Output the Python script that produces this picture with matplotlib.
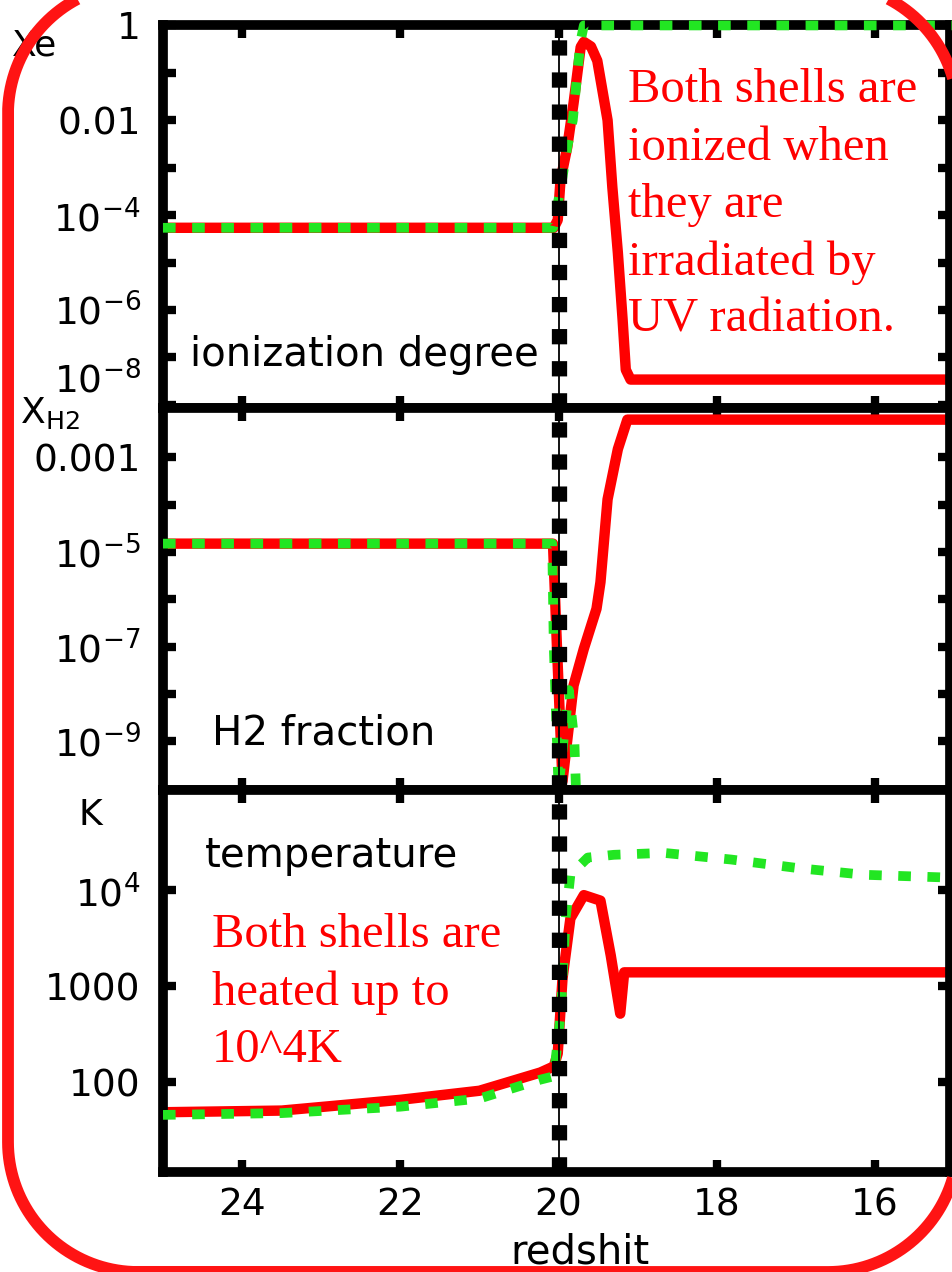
import matplotlib
matplotlib.use("Agg")
import numpy as np
import matplotlib.pyplot as plt
from matplotlib.patches import PathPatch
from matplotlib.path import Path
from matplotlib.ticker import FixedLocator, FixedFormatter

# ---------------- data ----------------
x_ticks = [24, 22, 20, 18, 16]
x_ticklabels = ["24", "22", "20", "18", "16"]
z_uv = 20.0

# ionization degree
xe_red_z = [25.0, 20.06, 20.01, 19.975, 19.89, 19.81, 19.72, 19.68, 19.59, 19.51,
            19.38, 19.32, 19.25, 19.19, 19.15, 19.09, 15.0]
xe_red = [5.4e-5, 5.4e-5, 7.9e-5, 5.5e-4, 2.7e-3, 0.023, 0.35, 0.45, 0.36, 0.18,
          0.01, 3.9e-4, 1.6e-5, 6.2e-7, 5.5e-8, 3.4e-8, 3.4e-8]
xe_green_z = [25.0, 20.07, 20.04, 19.95, 19.89, 19.82, 19.76, 19.72, 19.68, 15.0]
xe_green = [5.4e-5, 5.4e-5, 9e-5, 6.3e-4, 2.7e-3, 0.01, 0.11, 0.48, 1.0, 1.0]
xe_yticks = [1, 1e-1, 1e-2, 1e-3, 1e-4, 1e-5, 1e-6, 1e-7, 1e-8]
xe_yticklabels = ["1", "", "0.01", "", r"$10^{-4}$", "", r"$10^{-6}$", "", ""]

# H2 fraction
h2_red_z = [25.0, 20.07, 20.02, 19.95, 19.81, 19.68, 19.52, 19.47, 19.38, 19.25,
            19.13, 15.0]
h2_red = [1.5e-5, 1.5e-5, 1e-7, 1.4e-10, 1.5e-8, 9e-8, 6.3e-7, 2.3e-6, 1.3e-4,
          1.5e-3, 6.3e-3, 6.3e-3]
h2_green_z = [25.0, 20.08, 20.06, 20.0, 19.87, 19.80, 19.76]
h2_green = [1.5e-5, 1.5e-5, 1e-7, 1e-10, 1.2e-8, 1e-9, 1e-11]
h2_yticks = [1e-3, 1e-4, 1e-5, 1e-6, 1e-7, 1e-8, 1e-9]
h2_yticklabels = ["0.001", "", r"$10^{-5}$", "", r"$10^{-7}$", "", r"$10^{-9}$"]

# temperature
t_red_z = [25.0, 23.5, 22.0, 21.0, 20.23, 20.06, 20.01, 19.95, 19.85, 19.68, 19.47,
           19.34, 19.22, 19.17, 15.0]
t_red = [49, 51, 66, 82, 127, 147, 200, 1200, 5100, 8900, 7800, 2100, 520, 1400, 1400]
t_green_z = [25.0, 23.5, 22.0, 21.0, 20.23, 20.06, 19.97, 19.91, 19.85, 19.63, 19.30,
             18.67, 17.82, 16.97, 16.14, 15.0]
t_green = [46, 48, 56, 68, 107, 116, 540, 5100, 14500, 21900, 23400, 24500, 20900,
           17000, 14500, 13500]
t_yticks = [1e4, 1e3, 1e2]
t_yticklabels = [r"$10^{4}$", "1000", "100"]

# ---------------- style ----------------
RED = "#ff0000"
GREEN = "#22e622"
TICK_FS = 27
LABEL_FS = 29

plt.rcParams["font.family"] = ["DejaVu Sans"]
plt.rcParams["mathtext.fontset"] = "dejavusans"

fig = plt.figure(figsize=(9.53, 12.72), dpi=100)
axes = fig.subplots(3, 1, sharex=True)
fig.subplots_adjust(left=0.171, right=0.997, top=0.980, bottom=0.0786, hspace=0)

ylims = [(8.7e-9, 1.0), (9.3e-11, 1.13e-2), (11.7, 1.11e5)]
yticks = [xe_yticks, h2_yticks, t_yticks]
ylabels = [xe_yticklabels, h2_yticklabels, t_yticklabels]
series = [(xe_red_z, xe_red, xe_green_z, xe_green),
          (h2_red_z, h2_red, h2_green_z, h2_green),
          (t_red_z, t_red, t_green_z, t_green)]

for i, ax in enumerate(axes):
    rz, rv, gz, gv = series[i]
    ax.set_yscale("log")
    ax.plot(rz, rv, color=RED, lw=7.5, zorder=2)
    ax.plot(gz, gv, color=GREEN, lw=7, ls=(0, (1.3, 1.7)), zorder=3,
            clip_on=(i != 0))
    ax.axvline(z_uv, color="k", lw=1.3, zorder=4)
    ax.axvline(z_uv, color="k", lw=11, ls=(0, (1, 1.1)), zorder=4)
    ax.set_xlim(25, 15.05)
    ax.set_ylim(*ylims[i])
    ax.yaxis.set_major_locator(FixedLocator(yticks[i]))
    ax.yaxis.set_major_formatter(FixedFormatter(ylabels[i]))
    ax.yaxis.set_minor_locator(FixedLocator([]))
    ax.xaxis.set_major_locator(FixedLocator(x_ticks))
    ax.xaxis.set_major_formatter(FixedFormatter(x_ticklabels))
    for s in ax.spines.values():
        s.set_linewidth(7)
    ax.tick_params(axis="both", which="major", direction="in", length=9, width=6,
                   top=True, right=True, labelsize=TICK_FS)
    ax.tick_params(axis="y", pad=16)
    ax.tick_params(axis="x", pad=11)

# 10^-8 label of top panel (raised above its tick)
axes[0].annotate(r"$10^{-8}$", xy=(0, 1e-8), xycoords=("axes fraction", "data"),
                 xytext=(-16, 17), textcoords="offset points", ha="right",
                 va="center", fontsize=TICK_FS)

# panel names
axes[0].text(0.034, 0.138, "ionization degree", transform=axes[0].transAxes,
             fontsize=LABEL_FS, ha="left", va="center")
axes[1].text(0.062, 0.148, "H2 fraction", transform=axes[1].transAxes,
             fontsize=LABEL_FS, ha="left", va="center")
axes[2].text(0.053, 0.826, "temperature", transform=axes[2].transAxes,
             fontsize=LABEL_FS, ha="left", va="center")

# annotations
axes[0].text(0.591, 0.888, "Both shells are\nionized when\nthey are\nirradiated by\nUV radiation.",
             transform=axes[0].transAxes, fontsize=35, color=RED,
             family="Liberation Serif", ha="left", va="top", linespacing=1.39, zorder=5)
axes[2].text(0.062, 0.677, "Both shells are\nheated up to\n10^4K",
             transform=axes[2].transAxes, fontsize=35, color=RED,
             family="Liberation Serif", ha="left", va="top", linespacing=1.39, zorder=5)

# axis unit labels
fig.text(35 / 953, 1 - 45 / 1272, "Xe", fontsize=26, ha="center", va="center")
fig.text(50 / 953, 1 - 413 / 1272, r"X$_{\mathrm{H2}}$", fontsize=26, ha="center", va="center")
fig.text(90 / 953, 1 - 815 / 1272, "K", fontsize=26, ha="center", va="center")
fig.text(580 / 953, 1 - 1252 / 1272, "redshit", fontsize=29, ha="center", va="center")

# rounded red frame (pixel geometry, top-left origin)
L, R, T, B, RAD = 8.0, 958.0, -16.0, 1272.0, 130.0
corners = [(R - RAD, T + RAD, -90, 0), (R - RAD, B - RAD, 0, 90),
           (L + RAD, B - RAD, 90, 180), (L + RAD, T + RAD, 180, 270)]
pts = []
for cx, cy, a0, a1 in corners:
    ang = np.radians(np.linspace(a0, a1, 40))
    pts += list(zip(cx + RAD * np.cos(ang), cy + RAD * np.sin(ang)))
pts.append(pts[0])
verts = [(x / 100.0, (1272 - y) / 100.0) for x, y in pts]
frame = PathPatch(Path(verts), transform=fig.dpi_scale_trans, fill=False,
                  ec="#ff1414", lw=8.5, zorder=10)
fig.add_artist(frame)

fig.savefig("out.png", dpi=100)
